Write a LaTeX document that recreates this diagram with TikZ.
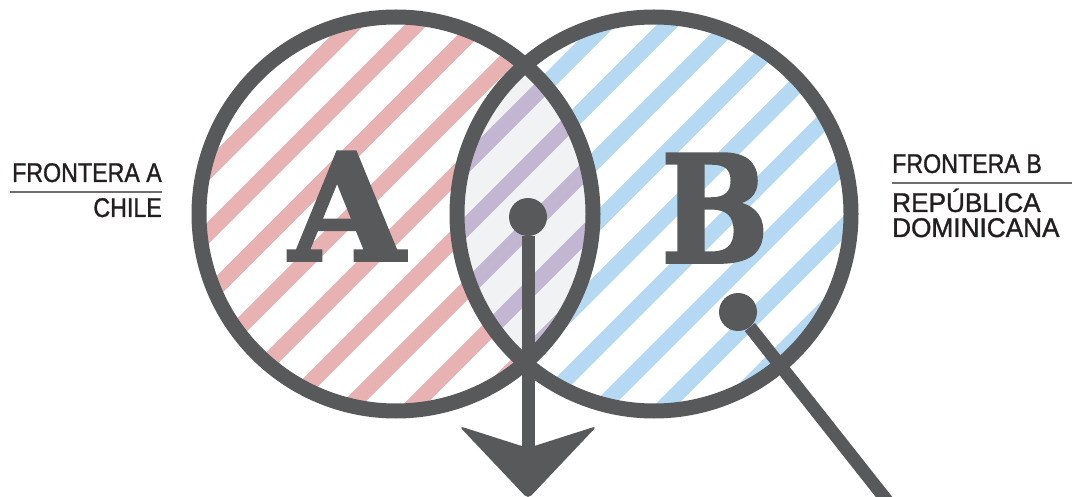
\documentclass[tikz,border=0pt]{standalone}
\usepackage{graphicx}
\usepackage{fontspec}
\setmainfont{Liberation Sans}
\newfontfamily\labfont[FakeStretch=0.86,FakeBold=1.2]{Liberation Sans}
\newfontfamily\labwidefont[FakeStretch=0.97,FakeBold=1.2]{Liberation Sans}
\newfontfamily\letterfont[FakeBold=2.5]{DejaVu Serif}
\definecolor{ink}{HTML}{58595B}
\definecolor{rule}{HTML}{6D6E71}
\definecolor{txt}{HTML}{231F20}
\definecolor{redhatch}{HTML}{E8B2B3}
\definecolor{bluehatch}{HTML}{B5D9F3}
\definecolor{lenshatch}{HTML}{C2B6D2}
\definecolor{lensfill}{HTML}{F1F2F4}
\newcommand{\hatchset}[1]{\foreach \c in {126,189,...,1323} \draw[#1,line width=16pt] (\c+20,-20) -- (\c-440,440);}

\begin{document}
\begin{tikzpicture}[x=1pt,y=-1pt,
    ring/.style={draw=ink,line width=15pt},
    dot/.style={circle,fill=ink,inner sep=0pt,minimum size=38pt},
    pointer/.style={draw=ink,line width=13pt},
    bigletter/.style={text=ink,inner sep=0pt,anchor=base,font=\letterfont\bfseries\fontsize{148}{148}\selectfont},
    lab/.style={text=txt,inner sep=0pt,font=\labfont\fontsize{27}{22}\selectfont},
    labwide/.style={text=txt,inner sep=0pt,anchor=base west,font=\labwidefont\fontsize{27}{22}\selectfont}]
  \useasboundingbox (0,0) rectangle (1080,497);
  \coordinate (ca) at (396,214);
  \coordinate (cb) at (654,214);
  % hatching
  \begin{scope}
    \clip (ca) circle[radius=197pt];
    \hatchset{redhatch}
  \end{scope}
  \begin{scope}
    \clip (cb) circle[radius=197pt];
    \hatchset{bluehatch}
  \end{scope}
  \begin{scope}
    \clip (ca) circle[radius=197pt];
    \clip (cb) circle[radius=197pt];
    \fill[lensfill] (0,0) rectangle (1080,497);
    \hatchset{lenshatch}
  \end{scope}
  % rings
  \draw[ring] (ca) circle[radius=197pt];
  \draw[ring] (cb) circle[radius=197pt];
  % letters
  \node[bigletter] (la) at (347,260) {A};
  \node[bigletter] (lb) at (715,262) {\scalebox{0.86}[1]{B}};
  % pointers
  \node[dot] (lensdot) at (528,217) {};
  \coordinate (notch) at (528,448);
  \coordinate (lenstip) at (528,499);
  \draw[pointer] (lensdot) -- (notch);
  \fill[ink,rounded corners=5pt] (lenstip) -- (459,426) -- (notch) -- (597,426) -- cycle;
  \node[dot] (bdot) at (738,312) {};
  \coordinate (bend) at (888,502);
  \draw[pointer] (bdot) -- (bend);
  % labels
  \node[lab,anchor=base east] (fa) at (162,182) {FRONTERA A};
  \node[lab,anchor=base east] (chile) at (162,217) {CHILE};
  \draw[rule,line width=2.5pt] (10,192) -- (162,192);
  \node[lab,anchor=base west] (fb) at (892,173) {FRONTERA B};
  \draw[rule,line width=2.5pt] (892,183) -- (1072,183);
  \node[labwide] (rep) at (892,212) {REPÚBLICA};
  \node[labwide] (dom) at (892,237) {DOMINICANA};
\end{tikzpicture}
\end{document}
